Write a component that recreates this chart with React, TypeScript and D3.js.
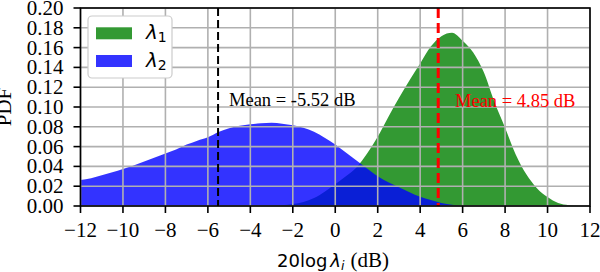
import React from "react";
import * as d3 from "d3";

const lambda1X = [-3, -2.5, -2, -1.5, -1, -0.5, 0, 0.5, 1, 1.5, 2, 2.5, 3, 3.5, 4, 4.5, 5, 5.5, 6, 6.5, 7, 7.5, 8, 8.5, 9, 9.5, 10, 10.5, 11, 11.5];
const lambda1Pdf = [0, 0.0008, 0.002, 0.004, 0.008, 0.0145, 0.022, 0.03, 0.039, 0.053, 0.07, 0.09, 0.109, 0.127, 0.144, 0.161, 0.1715, 0.175, 0.167, 0.155, 0.135, 0.105, 0.079, 0.052, 0.032, 0.018, 0.009, 0.003, 0.0008, 0];

const lambda2X = [-12, -11.5, -11, -10.5, -10, -9.5, -9, -8.5, -8, -7.5, -7, -6.5, -6, -5.5, -5, -4.5, -4, -3.5, -3, -2.5, -2, -1.5, -1, -0.5, 0, 0.5, 1, 1.5, 2, 2.5, 3, 3.5, 4, 4.5, 5, 5.5, 6];
const lambda2Pdf = [0.0263, 0.028, 0.031, 0.034, 0.0375, 0.041, 0.045, 0.049, 0.053, 0.057, 0.062, 0.066, 0.0695, 0.0748, 0.0785, 0.081, 0.0825, 0.0835, 0.084, 0.0832, 0.0815, 0.079, 0.075, 0.069, 0.062, 0.054, 0.046, 0.038, 0.03, 0.024, 0.019, 0.014, 0.0094, 0.006, 0.003, 0.0012, 0];

const xTicks = [-12, -10, -8, -6, -4, -2, 0, 2, 4, 6, 8, 10, 12];
const yTicks = [0, 0.02, 0.04, 0.06, 0.08, 0.1, 0.12, 0.14, 0.16, 0.18, 0.2];
const means = [-5.52, 4.85];
const meanLabels = ["Mean = -5.52 dB", "Mean = 4.85 dB"];

const GREEN = "rgb(51,153,51)";
const BLUE = "rgb(51,51,255)";
const SERIF = "'Liberation Serif', 'Times New Roman', serif";
const SANS = "'DejaVu Sans', sans-serif";

export default function App() {
  const W = 600, H = 272;
  const L = 80.5, R = 590, T = 8, B = 206;
  const x = d3.scaleLinear().domain([-12, 12]).range([L, R]);
  const y = d3.scaleLinear().domain([0, 0.2]).range([B, T]);

  const area = d3
    .area<[number, number]>()
    .x((d) => x(d[0]))
    .y0(y(0))
    .y1((d) => y(d[1]))
    .curve(d3.curveMonotoneX);

  const g1 = area(lambda1X.map((v, i) => [v, lambda1Pdf[i]] as [number, number])) || "";
  const g2 = area(lambda2X.map((v, i) => [v, lambda2Pdf[i]] as [number, number])) || "";
  const fmtY = (v: number) => v.toFixed(2);
  const fmtX = (v: number) => (v < 0 ? "\u2212" + Math.abs(v) : String(v));

  return (
    <svg width={W} height={H} style={{ position: "absolute", left: 0, top: 0, background: "white" }}>
      <defs>
        <clipPath id="plotclip">
          <rect x={L} y={T} width={R - L} height={B - T} />
        </clipPath>
      </defs>
      <g clipPath="url(#plotclip)">
        <path d={g1} fill={GREEN} />
        <path d={g2} fill="rgb(0,0,255)" fillOpacity={0.8} />
      </g>
      {/* grid */}
      {xTicks.map((t) => (
        <line key={"gx" + t} x1={x(t)} x2={x(t)} y1={T} y2={B} stroke="#b0b0b0" strokeWidth={1.6} />
      ))}
      {yTicks.map((t) => (
        <line key={"gy" + t} x1={L} x2={R} y1={y(t)} y2={y(t)} stroke="#b0b0b0" strokeWidth={1.6} />
      ))}
      {/* mean lines */}
      <line x1={x(means[0])} x2={x(means[0])} y1={T} y2={B} stroke="black" strokeWidth={2} strokeDasharray="8,4" />
      <line x1={x(means[1])} x2={x(means[1])} y1={T} y2={B} stroke="rgb(255,0,0)" strokeWidth={3} strokeDasharray="10,5" />
      <text x={229} y={106} fontFamily={SERIF} fontSize={18.5} fill="black">{meanLabels[0]}</text>
      <text x={455} y={106.5} fontFamily={SERIF} fontSize={18.5} fill="red">{meanLabels[1]}</text>
      {/* spines */}
      <rect x={L} y={T} width={R - L} height={B - T} fill="none" stroke="black" strokeWidth={1.6} />
      {/* ticks */}
      {xTicks.map((t) => (
        <g key={"tx" + t}>
          <line x1={x(t)} x2={x(t)} y1={B} y2={B + 7} stroke="black" strokeWidth={1.6} />
          <text x={x(t)} y={237} textAnchor="middle" fontFamily={SERIF} fontSize={21}>{fmtX(t)}</text>
        </g>
      ))}
      {yTicks.map((t) => (
        <g key={"ty" + t}>
          <line x1={L - 7} x2={L} y1={y(t)} y2={y(t)} stroke="black" strokeWidth={1.6} />
          <text x={63.5} y={y(t) + 7} textAnchor="end" fontFamily={SERIF} fontSize={21}>{fmtY(t)}</text>
        </g>
      ))}
      {/* axis labels */}
      <text transform={`translate(10.5,${(T + B) / 2}) rotate(-90)`} textAnchor="middle" fontFamily={SERIF} fontSize={21}>PDF</text>
      <text x={277} y={266.5} fontSize={18}>
        <tspan fontFamily={SANS}>20log</tspan>
        <tspan fontFamily={SANS} fontStyle="italic" dx={3}>λ</tspan>
        <tspan fontFamily={SANS} fontStyle="italic" fontSize={12.5} dy={3}>i</tspan>
        <tspan fontFamily={SERIF} fontSize={21} dx={6} dy={-3}>(dB)</tspan>
      </text>
      {/* legend */}
      <rect x={88} y={16} width={84} height={62} rx={4} fill="white" stroke="#cccccc" strokeWidth={1.2} />
      <rect x={96} y={27.3} width={36} height={12} fill={GREEN} />
      <rect x={96} y={55} width={36} height={12} fill={BLUE} />
      <text x={146} y={38.5} fontSize={20}>
        <tspan fontFamily={SANS} fontStyle="italic">λ</tspan>
        <tspan fontFamily={SANS} fontSize={14} dy={3}>1</tspan>
      </text>
      <text x={146} y={66.5} fontSize={20}>
        <tspan fontFamily={SANS} fontStyle="italic">λ</tspan>
        <tspan fontFamily={SANS} fontSize={14} dy={3}>2</tspan>
      </text>
    </svg>
  );
}
